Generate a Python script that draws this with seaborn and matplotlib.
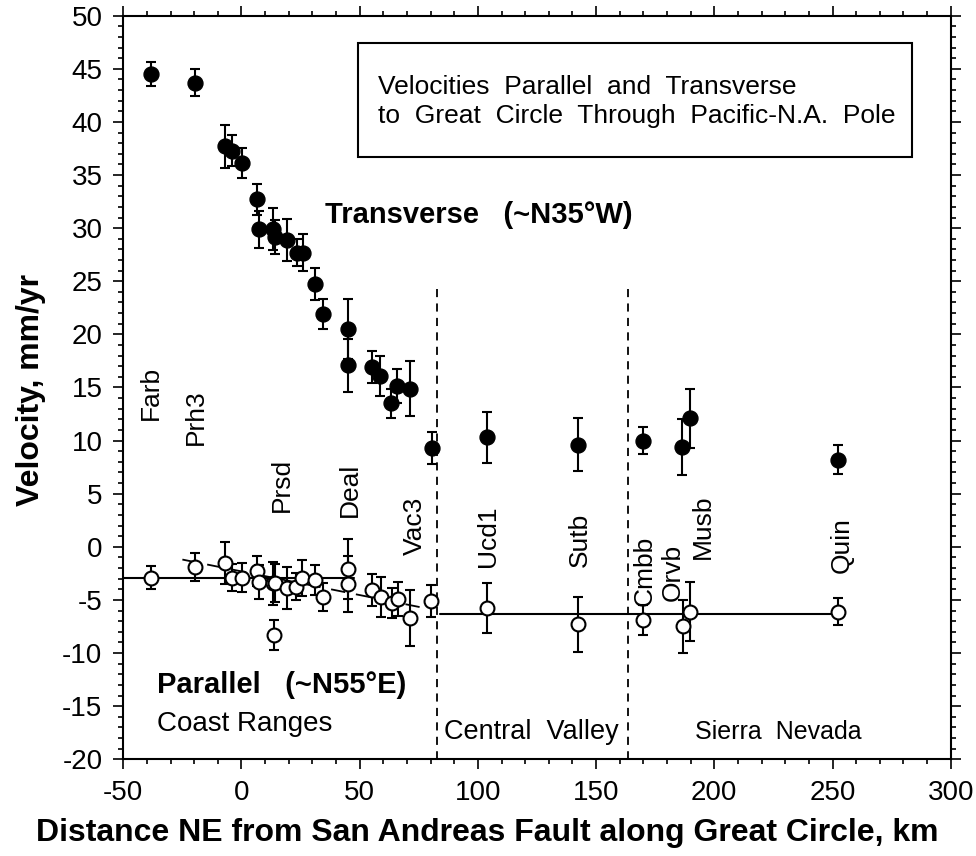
import matplotlib
matplotlib.use("Agg")
import matplotlib.pyplot as plt
import seaborn as sns
import pandas as pd
from matplotlib.patches import Rectangle
from matplotlib.ticker import MultipleLocator

# ---------------- data ----------------
trans_dist = [-38.3, -19.5, -7.0, -4.2, 0.4, 6.4, 7.5, 13.2, 14.3, 19.1, 23.3, 26.1,
              31.1, 34.6, 45.2, 45.2, 55.1, 58.6, 63.1, 65.9, 71.3, 80.4,
              103.8, 142.3, 169.8, 186.3, 189.7, 252.3]
trans_vel = [44.5, 43.7, 37.7, 37.3, 36.1, 32.7, 29.9, 29.9, 29.2, 28.9, 27.7, 27.7,
             24.7, 21.9, 20.5, 17.1, 16.9, 16.1, 13.5, 15.1, 14.9, 9.3,
             10.3, 9.6, 10.0, 9.4, 12.1, 8.2]
trans_err = [1.1, 1.3, 2.0, 1.45, 1.4, 1.5, 1.75, 2.0, 1.6, 2.0, 1.25, 1.75,
             1.5, 1.4, 2.8, 2.5, 1.5, 1.9, 1.4, 1.6, 2.6, 1.55,
             2.4, 2.5, 1.3, 2.6, 2.8, 1.35]

par_dist = [-38.3, -19.5, -7.0, -4.2, 0.4, 6.4, 7.5, 13.2, 14.3, 13.9, 19.1, 23.1,
            25.7, 31.1, 34.6, 44.9, 44.9, 55.1, 59.0, 63.5, 66.3, 71.3, 80.2,
            103.8, 142.3, 169.8, 186.7, 189.7, 252.3]
par_vel = [-2.9, -1.9, -1.5, -2.9, -2.9, -2.25, -3.35, -3.45, -3.4, -8.3, -3.9, -3.75,
           -2.9, -3.1, -4.7, -2.1, -3.5, -4.1, -4.7, -5.3, -4.9, -6.7, -5.1,
           -5.8, -7.3, -6.9, -7.5, -6.1, -6.1]
par_err = [1.1, 1.3, 2.0, 1.3, 1.4, 1.4, 1.6, 2.0, 1.8, 1.4, 2.0, 1.25,
           1.7, 1.4, 1.3, 2.8, 2.6, 1.5, 1.9, 1.4, 1.6, 2.6, 1.55,
           2.35, 2.6, 1.4, 2.5, 2.75, 1.3]

# mean parallel velocity lines and sloped model
coast_line_x = [-50, 47.6]
coast_line_y = [-2.95, -2.95]
valley_line_x = [84.0, 252.3]
valley_line_y = [-6.35, -6.35]
slope_line_x = [-25.0, 76.0]
slope_line_y = [-1.2, -5.7]

# province boundaries
boundary_x = [82.6, 163.4]
boundary_top = 24.3

# station labels (name, distance, velocity of label centre)
station_names = ["Farb", "Prh3", "Prsd", "Deal", "Vac3", "Ucd1", "Sutb",
                 "Cmbb", "Orvb", "Musb", "Quin"]
station_x = [-38.3, -19.3, 17.1, 45.9, 73.4, 104.3, 143.2, 170.7, 182.6, 195.3, 254.0]
station_y = [14.5, 12.2, 5.8, 5.35, 1.95, 1.0, 0.65, -2.3, -2.4, 1.85, 0.2]

xticks = [-50, 0, 50, 100, 150, 200, 250, 300]
yticks = list(range(-20, 55, 5))

# ---------------- style ----------------
sns.set_theme(style="ticks")
plt.rcParams["font.family"] = ["Liberation Sans", "DejaVu Sans"]
plt.rcParams["axes.linewidth"] = 1.5
plt.rcParams["axes.unicode_minus"] = False

fig = plt.figure(figsize=(9.76, 8.56), dpi=100)
ax = fig.add_axes([0.1263, 0.1130, 0.8478, 0.8687])

tdf = pd.DataFrame({"dist": trans_dist, "vel": trans_vel, "err": trans_err})
pdf = pd.DataFrame({"dist": par_dist, "vel": par_vel, "err": par_err})

# lines
ax.plot(coast_line_x, coast_line_y, color="black", lw=1.5, zorder=1)
ax.plot(valley_line_x, valley_line_y, color="black", lw=1.5, zorder=1)
ax.plot(slope_line_x, slope_line_y, color="black", lw=1.3, ls=(0, (8, 6)), zorder=1)
for bx in boundary_x:
    ax.plot([bx, bx], [boundary_top, -20], color="black", lw=1.3,
            ls=(0, (4.5, 3.5)), zorder=1)

# error bars
ax.errorbar(tdf["dist"], tdf["vel"], yerr=tdf["err"], fmt="none", ecolor="black",
            elinewidth=1.5, capsize=3.8, capthick=1.5, zorder=2)
ax.errorbar(pdf["dist"], pdf["vel"], yerr=pdf["err"], fmt="none", ecolor="black",
            elinewidth=1.5, capsize=3.8, capthick=1.5, zorder=2)

# markers
sns.scatterplot(data=tdf, x="dist", y="vel", ax=ax, color="black", s=115,
                edgecolor="black", linewidth=1.0, zorder=3, legend=False)
sns.scatterplot(data=pdf, x="dist", y="vel", ax=ax, facecolor="white", s=100,
                edgecolor="black", linewidth=1.5, zorder=3, legend=False)

# axes
ax.set_xlim(-50, 300)
ax.set_ylim(-20, 50)
ax.set_xticks(xticks)
ax.set_yticks(yticks)
ax.set_xlabel("")
ax.set_ylabel("")
ax.xaxis.set_minor_locator(MultipleLocator(10))
ax.yaxis.set_minor_locator(MultipleLocator(1))
ax.tick_params(which="both", direction="out", top=True, right=True, color="black",
               width=1.2, labelsize=20, labelcolor="black")
ax.tick_params(which="major", length=7, pad=8)
ax.tick_params(which="minor", length=3.5)
for sp in ax.spines.values():
    sp.set_color("black")
    sp.set_linewidth(1.5)

lab_font = dict(family=["Liberation Sans", "DejaVu Sans"],
                fontweight="bold", fontsize=23, color="black")
fig.text(487 / 976, 1 - 833 / 856,
         "Distance NE from San Andreas Fault along Great Circle, km",
         ha="center", va="center", **lab_font)
fig.text(31 / 976, 1 - 390 / 856, "Velocity, mm/yr", rotation=90,
         ha="center", va="center", **lab_font)

# title box
ax.add_patch(Rectangle((49.3, 36.7), 234.3, 10.7, fill=False, edgecolor="black",
                       lw=1.5, zorder=4))
ax.text(57.7, 43.3, "Velocities  Parallel  and  Transverse", fontsize=19,
        ha="left", va="center", color="black")
ax.text(57.7, 40.6, "to  Great  Circle  Through  Pacific-N.A.  Pole", fontsize=19,
        ha="left", va="center", color="black")

# component labels
ax.text(35.3, 31.2, "Transverse   (~N35\u00b0W)", fontsize=21, fontweight="bold",
        ha="left", va="center", color="black")
ax.text(-35.7, -13.0, "Parallel   (~N55\u00b0E)", fontsize=21, fontweight="bold",
        ha="left", va="center", color="black")

# region labels
ax.text(-35.7, -16.7, "Coast Ranges", fontsize=20, ha="left", va="center", color="black")
ax.text(122.5, -17.4, "Central  Valley", fontsize=19.5, ha="center", va="center",
        color="black")
ax.text(227.0, -17.4, "Sierra  Nevada", fontsize=18, ha="center", va="center",
        color="black")

for name, sx, sy in zip(station_names, station_x, station_y):
    ax.text(sx, sy, name, rotation=90, fontsize=19, ha="center", va="center",
            color="black")

fig.savefig("out.png", dpi=100, facecolor="white")
